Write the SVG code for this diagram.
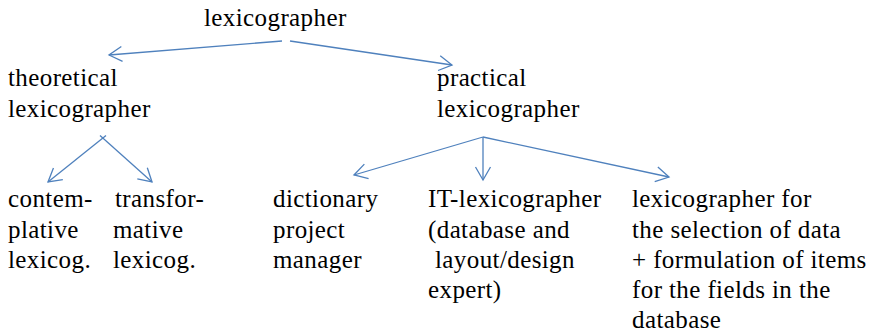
<svg xmlns="http://www.w3.org/2000/svg" width="872" height="335" viewBox="0 0 872 335">
<defs>
<marker id="ah" markerUnits="userSpaceOnUse" markerWidth="20" markerHeight="20" viewBox="-15 -10 17 20" refX="0" refY="0" orient="auto">
<path d="M-13,-7.5 L0,0 L-13,7.5" fill="none" stroke="#4f81bd" stroke-width="1.3"/>
</marker>
</defs>
<rect width="872" height="335" fill="#fff"/>
<g id="connectors" stroke="#4f81bd" stroke-width="1.3" fill="none" marker-end="url(#ah)">
<line x1="282" y1="41" x2="109" y2="55"/>
<line x1="290" y1="41" x2="452" y2="65"/>
<line x1="106" y1="135.5" x2="48" y2="182"/>
<line x1="100" y1="135.5" x2="152" y2="182"/>
<line x1="483" y1="137" x2="354" y2="175"/>
<line x1="483" y1="137" x2="483" y2="180"/>
<line x1="483" y1="137" x2="669" y2="177"/>
</g>
<g font-family="Liberation Serif, serif" font-size="25" letter-spacing="0.4" fill="#000">
<g id="root"><text x="204" y="26">lexicographer</text></g>
<g id="theoretical"><text x="8" y="86">theoretical</text><text x="8" y="117">lexicographer</text></g>
<g id="practical"><text x="437" y="86">practical</text><text x="437" y="117">lexicographer</text></g>
<g id="contemplative"><text x="8" y="207">contem-</text><text x="8" y="238">plative</text><text x="8" y="268">lexicog.</text></g>
<g id="transformative"><text x="115" y="207">transfor-</text><text x="113" y="238">mative</text><text x="113" y="268">lexicog.</text></g>
<g id="dictionary"><text x="273" y="207">dictionary</text><text x="273" y="238">project</text><text x="273" y="268">manager</text></g>
<g id="it"><text x="428" y="207">IT-lexicographer</text><text x="428" y="238">(database and</text><text x="435" y="268">layout/design</text><text x="428" y="298">expert)</text></g>
<g id="selection"><text x="632" y="207">lexicographer for</text><text x="632" y="238">the selection of data</text><text x="632" y="268">+ formulation of items</text><text x="632" y="298">for the fields in the</text><text x="632" y="328">database</text></g>
</g>
</svg>
